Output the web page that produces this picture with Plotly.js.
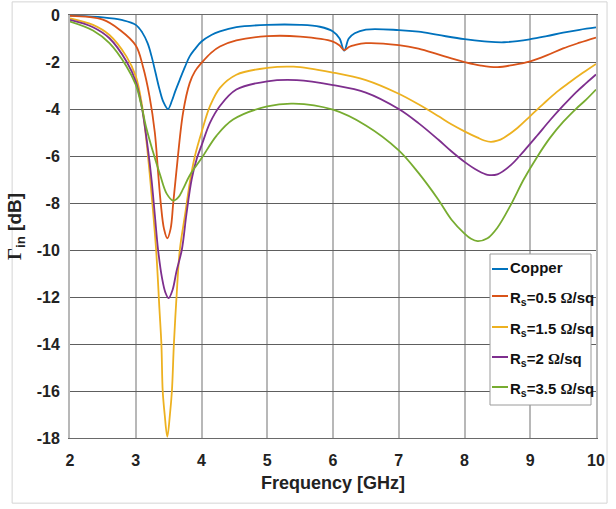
<!DOCTYPE html>
<html>
<head>
<meta charset="utf-8">
<script src="https://cdn.plot.ly/plotly-3.0.1.min.js"></script>
<style>html,body{margin:0;padding:0;background:#fff;}#chart{width:616px;height:509px;}</style>
</head>
<body>
<div id="chart"></div>
<script>
// Frequency [GHz] and reflection [dB] for each series
var freqCopper = [2, 2.5, 2.8, 3, 3.1, 3.18, 3.24, 3.3, 3.36, 3.42, 3.49, 3.55, 3.6, 3.67, 3.75, 3.82, 3.9, 4, 4.15, 4.28, 4.53, 5, 5.5, 5.8, 6.0, 6.1, 6.17, 6.24, 6.33, 6.5, 7.0, 7.3, 7.6, 8.0, 8.3, 8.6, 9.0, 9.25, 9.5, 9.75, 10];
var gammaCopper = [-0.03, -0.1, -0.22, -0.42, -0.75, -1.2, -1.75, -2.45, -3.15, -3.7, -4.0, -3.65, -3.25, -2.75, -2.2, -1.76, -1.45, -1.13, -0.85, -0.7, -0.52, -0.42, -0.42, -0.5, -0.7, -1.0, -1.52, -1.0, -0.78, -0.62, -0.64, -0.71, -0.85, -1.03, -1.12, -1.16, -1.03, -0.9, -0.75, -0.63, -0.53];

var freqRs05 = [2, 2.5, 2.76, 3, 3.11, 3.21, 3.29, 3.34, 3.38, 3.43, 3.48, 3.53, 3.57, 3.62, 3.72, 3.82, 3.9, 4, 4.15, 4.28, 4.53, 5, 5.5, 6.0, 6.1, 6.17, 6.25, 6.33, 6.5, 7.0, 7.3, 7.6, 7.8, 8.0, 8.25, 8.5, 8.75, 9.0, 9.25, 9.5, 9.75, 10];
var gammaRs05 = [-0.04, -0.2, -0.64, -1.3, -2.2, -3.47, -5.0, -6.7, -8.0, -9.1, -9.5, -9.1, -8.0, -6.6, -4.15, -2.9, -2.4, -2.04, -1.6, -1.34, -1.08, -0.9, -0.92, -1.13, -1.3, -1.49, -1.35, -1.28, -1.2, -1.28, -1.43, -1.68, -1.85, -2.0, -2.15, -2.22, -2.12, -1.97, -1.72, -1.42, -1.18, -0.96];

var freqRs15 = [2, 2.35, 2.6, 2.86, 3, 3.09, 3.16, 3.22, 3.31, 3.36, 3.39, 3.41, 3.44, 3.48, 3.52, 3.55, 3.58, 3.62, 3.67, 3.75, 3.83, 3.9, 4, 4.13, 4.28, 4.53, 5, 5.4, 6.0, 6.5, 7.0, 7.3, 7.6, 7.8, 8.0, 8.2, 8.3, 8.4, 8.5, 8.6, 8.8, 9.0, 9.2, 9.4, 9.6, 9.8, 10];
var gammaRs15 = [-0.14, -0.42, -0.85, -1.77, -2.6, -3.75, -5.3, -7.0, -10, -12.5, -14, -16, -17, -17.95, -17, -16, -14, -12, -10, -8.5, -7.0, -6.0, -5.0, -3.87, -3.1, -2.54, -2.25, -2.2, -2.45, -2.77, -3.35, -3.8, -4.3, -4.65, -4.95, -5.22, -5.34, -5.4, -5.35, -5.22, -4.82, -4.3, -3.78, -3.28, -2.86, -2.46, -2.08];

var freqRs2 = [2, 2.35, 2.6, 2.86, 3, 3.09, 3.19, 3.24, 3.29, 3.34, 3.4, 3.45, 3.5, 3.56, 3.62, 3.7, 3.77, 3.85, 3.93, 4, 4.13, 4.28, 4.53, 5, 5.45, 6.0, 6.5, 7.0, 7.3, 7.6, 7.8, 8.0, 8.2, 8.35, 8.5, 8.7, 8.9, 9.1, 9.3, 9.5, 9.7, 9.85, 10];
var gammaRs2 = [-0.21, -0.52, -0.99, -1.98, -2.83, -3.9, -5.8, -7.0, -8.5, -10, -11.2, -11.8, -12.05, -11.7, -10.9, -10, -8.5, -7.0, -6.1, -5.56, -4.58, -3.87, -3.17, -2.82, -2.77, -2.98, -3.3, -4.0, -4.6, -5.3, -5.8, -6.25, -6.62, -6.8, -6.78, -6.4, -5.8, -5.15, -4.48, -3.86, -3.28, -2.9, -2.53];

var freqRs35 = [2, 2.35, 2.6, 2.86, 3, 3.09, 3.16, 3.26, 3.37, 3.47, 3.57, 3.65, 3.72, 3.82, 4, 4.23, 4.48, 5, 5.4, 6.0, 6.5, 7.0, 7.3, 7.6, 7.8, 8.0, 8.1, 8.2, 8.35, 8.5, 8.7, 8.9, 9.1, 9.3, 9.5, 9.7, 9.85, 10];
var gammaRs35 = [-0.28, -0.66, -1.2, -2.19, -2.97, -3.9, -4.8, -5.8, -6.8, -7.6, -7.9, -7.75, -7.4, -6.83, -6.1, -5.13, -4.45, -3.89, -3.77, -4.03, -4.7, -5.76, -6.72, -7.85, -8.7, -9.3, -9.52, -9.62, -9.5, -9.05, -8.1, -7.0, -6.06, -5.23, -4.55, -3.98, -3.6, -3.17];

var seriesNames = ['Copper', 'R<sub>s</sub>=0.5 <span style="font-family:Liberation Serif">\u03A9</span>/sq', 'R<sub>s</sub>=1.5 <span style="font-family:Liberation Serif">\u03A9</span>/sq', 'R<sub>s</sub>=2 <span style="font-family:Liberation Serif">\u03A9</span>/sq', 'R<sub>s</sub>=3.5 <span style="font-family:Liberation Serif">\u03A9</span>/sq'];
var seriesColors = ['#0072BD', '#D95319', '#EDB120', '#7E2F8E', '#77AC30'];
var xTicks = [2, 3, 4, 5, 6, 7, 8, 9, 10];
var yTicks = [0, -2, -4, -6, -8, -10, -12, -14, -16, -18];

var xs = [freqCopper, freqRs05, freqRs15, freqRs2, freqRs35];
var ys = [gammaCopper, gammaRs05, gammaRs15, gammaRs2, gammaRs35];
var FONT = '"Liberation Sans", Arial, sans-serif';

var traces = xs.map(function (x, i) {
  return {
    x: x, y: ys[i], type: 'scatter', mode: 'lines', name: seriesNames[i],
    line: {color: seriesColors[i], width: 1.8, shape: 'spline', smoothing: 1.0},
    showlegend: false
  };
});

// legend drawn in paper coordinates (plot area: 70..596 px wide, 15..438 px tall)
var PL = 70, PW = 526, PT = 15, PH = 423;
function px(v) { return (v - PL) / PW; }
function py(v) { return (PT + PH - v) / PH; }
var legendRows = [269, 296, 327, 357, 387];

var shapes = [{
  type: 'rect', xref: 'paper', yref: 'paper',
  x0: -0.110, x1: 1.021, y0: -0.154, y1: 1.031,
  line: {color: '#d4d4d4', width: 1}, fillcolor: 'rgba(0,0,0,0)', layer: 'below'
}, {
  type: 'rect', xref: 'paper', yref: 'paper',
  x0: px(490), x1: px(591), y0: py(405), y1: py(254),
  line: {color: '#9a9a9a', width: 1}, fillcolor: '#ffffff', layer: 'above'
}];
var annotations = [];
seriesNames.forEach(function (name, i) {
  shapes.push({
    type: 'line', xref: 'paper', yref: 'paper',
    x0: px(492), x1: px(508), y0: py(legendRows[i]), y1: py(legendRows[i]),
    line: {color: seriesColors[i], width: 2}, layer: 'above'
  });
  annotations.push({
    xref: 'paper', yref: 'paper', x: px(508), y: py(legendRows[i] + (i === 0 ? -2 : 2)),
    xanchor: 'left', yanchor: 'middle', showarrow: false, text: name,
    font: {family: FONT, size: 15, color: '#111111', weight: 'bold'}
  });
});

var layout = {
  width: 616, height: 509,
  margin: {l: 70, r: 20, t: 15, b: 71, autoexpand: false},
  paper_bgcolor: '#ffffff', plot_bgcolor: '#ffffff',
  font: {family: FONT, size: 16, color: '#222222', weight: 'bold'},
  showlegend: false,
  xaxis: {
    range: [2, 10], tickvals: xTicks, ticktext: xTicks.map(String),
    showgrid: true, gridcolor: '#b8b8b8', gridwidth: 2,
    showline: true, linecolor: '#6a6a6a', linewidth: 1, mirror: true,
    zeroline: false, ticks: '', ticklabelstandoff: 8,
    tickfont: {family: FONT, size: 16, color: '#222222', weight: 'bold'},
    title: {text: 'Frequency [GHz]', standoff: 8, font: {family: FONT, size: 18, color: '#222222', weight: 'bold'}},
    automargin: false
  },
  yaxis: {
    range: [-18, 0], tickvals: yTicks, ticktext: yTicks.map(String),
    showgrid: true, gridcolor: '#5e5e5e', gridwidth: 1,
    showline: true, linecolor: '#b8b8b8', linewidth: 2, mirror: true,
    zeroline: false, ticks: '', ticklabelstandoff: 5,
    tickfont: {family: FONT, size: 16, color: '#222222', weight: 'bold'},
    title: {text: '<span style="font-family:Liberation Serif">\u0393</span><sub>in</sub> [dB]', standoff: 10, font: {family: FONT, size: 19, color: '#222222', weight: 'bold'}},
    automargin: false
  },
  shapes: shapes,
  annotations: annotations
};

Plotly.newPlot('chart', traces, layout, {staticPlot: true, displayModeBar: false});
</script>
</body>
</html>
